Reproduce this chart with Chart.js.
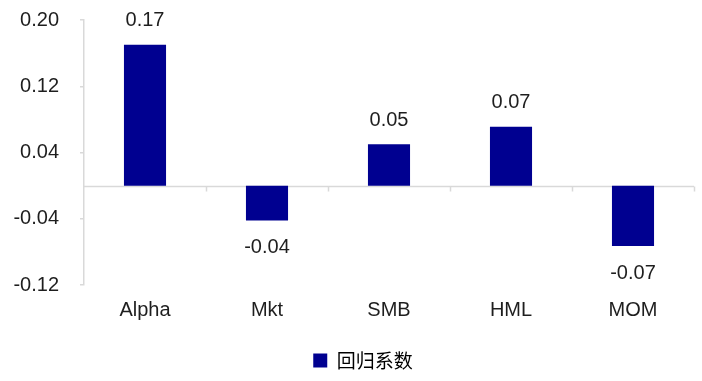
<!DOCTYPE html>
<html>
<head>
<meta charset="utf-8">
<script src="https://cdn.jsdelivr.net/npm/chart.js@4/dist/chart.umd.min.js"></script>
<style>
  html,body{margin:0;padding:0;background:#fff;}
  #wrap{width:702px;height:381px;position:relative;}
</style>
</head>
<body>
<div id="wrap"><canvas id="c"></canvas></div>
<script>
/* data */
const categories = ['Alpha', 'Mkt', 'SMB', 'HML', 'MOM'];
const coefValues = [0.170, -0.042, 0.050, 0.071, -0.073];
const yTicks = [-0.12, -0.04, 0.04, 0.12, 0.20];
const seriesName = '回归系数';

const barColor = '#000090';
const axisColor = '#d9d9d9';
const txtFont = '"Liberation Sans", Arial, sans-serif';

/* zero line + category tick marks + value labels */
const extras = {
  id: 'extras',
  afterLayout(chart){
    // legend sits a bit right of canvas centre in the original
    if(chart.legend){ chart.legend.left += 16; chart.legend.right += 16; }
  },
  beforeDatasetsDraw(chart){
    const {ctx, chartArea:a, scales:{x, y}} = chart;
    const y0 = Math.round(y.getPixelForValue(0)) + 0.5;
    ctx.save();
    ctx.strokeStyle = axisColor; ctx.lineWidth = 1.5;
    ctx.beginPath(); ctx.moveTo(a.left, y0); ctx.lineTo(a.right, y0); ctx.stroke();
    const half = (x.getPixelForTick(1) - x.getPixelForTick(0)) / 2;
    ctx.beginPath();
    for(let i = 0; i < categories.length; i++){
      const bx = Math.round(x.getPixelForTick(i) + half) + 0.5;
      ctx.moveTo(bx, y0); ctx.lineTo(bx, y0 + 5);
    }
    ctx.stroke();
    ctx.restore();
  },
  afterDatasetsDraw(chart){
    const {ctx} = chart;
    const meta = chart.getDatasetMeta(0);
    ctx.save();
    ctx.font = '20px ' + txtFont;
    ctx.fillStyle = '#1e1e1e';
    ctx.textAlign = 'center';
    ctx.textBaseline = 'middle';
    meta.data.forEach((bar, i) => {
      const v = coefValues[i];
      const yy = v >= 0 ? bar.y - 24 : bar.y + 27;
      ctx.fillText(v.toFixed(2), bar.x, yy);
    });
    ctx.restore();
  }
};

new Chart(document.getElementById('c'), {
  type: 'bar',
  data: {
    labels: categories,
    datasets: [{
      label: seriesName,
      data: coefValues,
      backgroundColor: barColor,
      borderWidth: 0,
      categoryPercentage: 1,
      barPercentage: 0.345
    }]
  },
  options: {
    responsive: true,
    maintainAspectRatio: false,
    animation: false,
    layout: {padding: {top: 20, right: 8, left: 0, bottom: 1}},
    plugins: {
      tooltip: {enabled: false},
      legend: {
        position: 'bottom',
        labels: {
          boxWidth: 14, boxHeight: 14, padding: 10,
          color: '#000',
          font: {size: 19, family: '"Noto Sans CJK SC", sans-serif'}
        }
      }
    },
    scales: {
      x: {
        grid: {display: false},
        border: {display: false},
        ticks: {color: '#1e1e1e', padding: 5, font: {size: 20, family: txtFont}},
        afterFit(s){ s.height = 56; }
      },
      y: {
        min: -0.12, max: 0.20,
        afterBuildTicks(s){ s.ticks = yTicks.map(v => ({value: v})); },
        grid: {drawOnChartArea: false, tickLength: 4, color: axisColor, lineWidth: 1.5},
        border: {display: true, color: axisColor, width: 1.5},
        ticks: {
          color: '#1e1e1e', padding: 21,
          font: {size: 20, family: txtFont},
          callback: v => v.toFixed(2)
        },
        afterFit(s){ s.width = 84; s.paddingTop = 0; s.paddingBottom = 0; }
      }
    }
  },
  plugins: [extras]
});
</script>
</body>
</html>
